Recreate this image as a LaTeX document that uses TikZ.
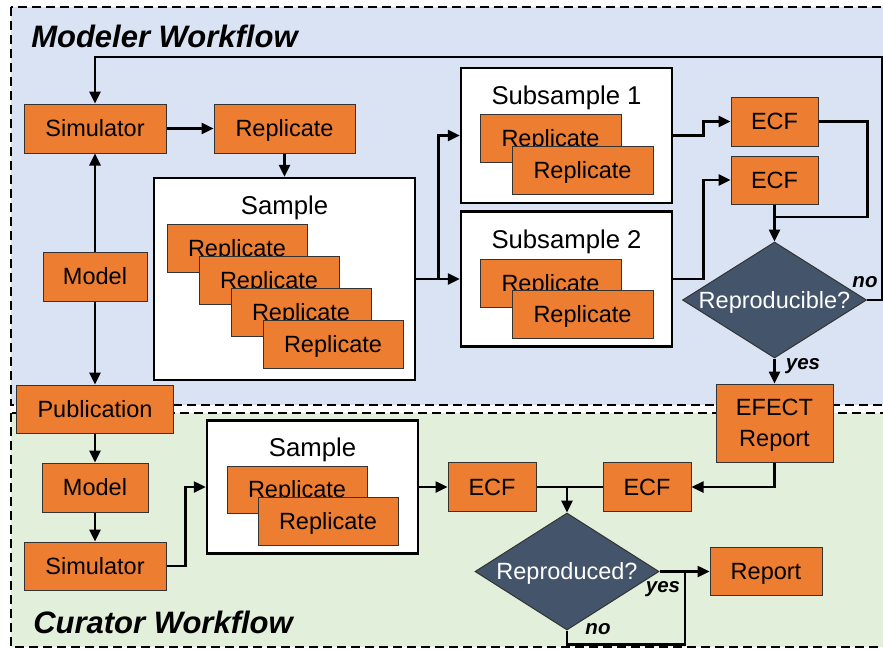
\documentclass[tikz,border=0pt]{standalone}
\usepackage{fontspec}
\setmainfont{Liberation Sans}
\usetikzlibrary{positioning, shapes.geometric, arrows.meta}
\definecolor{modelerbg}{HTML}{DAE3F3}
\definecolor{curatorbg}{HTML}{E2EFDA}
\definecolor{procorange}{HTML}{ED7D31}
\definecolor{decslate}{HTML}{44546A}

\begin{document}
\begin{tikzpicture}[x=1pt,y=-1pt,>={Triangle[length=12pt,width=11pt]},line width=2.5pt,
    proc node/.style={rectangle,draw=black!80,line width=1pt,fill=procorange,inner sep=0pt,
        minimum height=49pt,text height=16.8pt,text depth=0pt,font=\fontsize{23.5}{31}\selectfont},
    group node/.style={rectangle,draw,line width=2.5pt,fill=white,inner sep=0pt},
    group label/.style={inner sep=0pt,text height=18.4pt,text depth=0pt,font=\fontsize{25.7}{28}\selectfont},
    decision node/.style={diamond,draw=black!80,line width=1pt,fill=decslate,text=white,inner sep=0pt,
        minimum width=184pt,minimum height=116pt,text height=16.8pt,text depth=0pt,
        font=\fontsize{23.5}{26}\selectfont},
    answer/.style={inner sep=0pt,font=\fontsize{20.5}{22}\selectfont\bfseries\itshape},
    title/.style={anchor=west,inner sep=0pt,font=\fontsize{31}{34}\selectfont\bfseries\itshape},
    region/.style={dash pattern=on 9pt off 5pt,line width=2.5pt}]

    \useasboundingbox (0,0) rectangle (883,649);

    % the two workflow regions
    \draw[region,fill=modelerbg] (11,7) rectangle (895,405);
    \draw[region,fill=curatorbg] (11,413) rectangle (895,647);
    \node[title] (modtitle) at (30,36) {Modeler Workflow};
    \node[title] (curtitle) at (32,622) {Curator Workflow};

    % modeler side
    \node[proc node, minimum width=142pt] (sim1) at (95,128.5) {Simulator};
    \node[proc node, minimum width=141pt] (rep1) at (284.5,128.5) {Replicate};
    \node[proc node, minimum width=104pt] (model1) at (95,276.5) {Model};
    \node[proc node, minimum width=157pt, minimum height=48pt] (pub) at (95,409) {Publication};

    \node[group node, minimum width=261pt, minimum height=202pt] (sample1) at (284.5,279) {};
    \node[group label] (sample1lbl) at (284.5,205) {Sample};
    \foreach \i in {0,...,3}
        \node[proc node, minimum width=140pt, minimum height=48pt] (srep\i) at (237+32*\i,248+32*\i) {Replicate};

    \node[group node, minimum width=211pt, minimum height=135pt] (sub1) at (566.5,135.5) {};
    \node[group label] (sub1lbl) at (566.5,95) {Subsample 1};
    \foreach \i in {0,1}
        \node[proc node, minimum width=141pt, minimum height=48pt] (s1rep\i) at (550.5+32*\i,138+32*\i) {Replicate};

    \node[group node, minimum width=211pt, minimum height=135pt] (sub2) at (566.5,279) {};
    \node[group label] (sub2lbl) at (566.5,239) {Subsample 2};
    \foreach \i in {0,1}
        \node[proc node, minimum width=141pt, minimum height=48pt] (s2rep\i) at (550.5+32*\i,283+31.5*\i) {Replicate};

    \node[proc node, minimum width=87pt] (ecf1) at (774.5,121.5) {ECF};
    \node[proc node, minimum width=87pt, minimum height=48pt] (ecf2) at (774.5,180) {ECF};
    \node[decision node] (dia1) at (774.5,300) {\makebox[0pt]{Reproducible?}};
    \node[proc node, minimum width=117pt, minimum height=78pt, text height=47.8pt, align=center] (efect) at (774.5,423) {EFECT\\Report};

    % curator side
    \node[proc node, minimum width=106pt] (model2) at (95,487.5) {Model};
    \node[proc node, minimum width=142pt, minimum height=48pt] (sim2) at (95,566) {Simulator};

    \node[group node, minimum width=211pt, minimum height=133pt] (sample2) at (312.5,487) {};
    \node[group label] (sample2lbl) at (312.5,447) {Sample};
    \node[proc node, minimum width=140pt, minimum height=47pt] (c1rep0) at (297,489.5) {Replicate};
    \node[proc node, minimum width=140pt, minimum height=48pt] (c1rep1) at (328,521) {Replicate};

    \node[proc node, minimum width=88pt] (ecf4) at (492,487) {ECF};
    \node[proc node, minimum width=88pt] (ecf3) at (647,487) {ECF};
    \node[decision node, minimum height=117pt] (dia2) at (567,571.5) {\makebox[0pt]{Reproduced?}};
    \node[proc node, minimum width=112pt, minimum height=48pt] (report) at (766,571.5) {Report};

    \node[answer] (no1) at (865,282) {no};
    \node[answer] (yes1) at (803,366) {yes};
    \node[answer] (yes2) at (663,589) {yes};
    \node[answer] (no2) at (598,629) {no};

    % connectors
    \coordinate (loopR) at (882,57);
    \coordinate (join1) at (774.5,217);
    \coordinate (noR) at (685,571.5);

    \path[->]
        (sim1) edge (rep1)
        (rep1) edge (sample1)
        (model1) edge (sim1)
        (model1) edge (pub)
        (sample1) edge (sub2)
        (ecf2) edge (dia1)
        (dia1) edge (efect)
        (pub) edge (model2)
        (model2) edge (sim2)
        (sample2) edge (ecf4)
        (dia2) edge (report);

    \draw[->] (dia1.east) -| (loopR) -| (sim1.north);
    \draw[->] (sample1.east) -- ++(22,0) |- (sub1.west);
    \draw[->] (sub1.east) -- ++(30,0) |- (ecf1.west);
    \draw[->] (sub2.east) -- ++(30,0) |- (ecf2.west);
    \draw (ecf1.east) -- ++(49,0) |- (join1);
    \draw[->] (efect.south) |- (ecf3.east);
    \draw (ecf4.east) -- (ecf3.west);
    \draw[->] (dia2.north |- ecf4.east) -- (dia2.north);
    \draw (dia2.south) -- ++(0,14) -| (noR);
    \draw[->] (sim2.east) -- ++(19,0) |- (sample2.west);
\end{tikzpicture}
\end{document}
